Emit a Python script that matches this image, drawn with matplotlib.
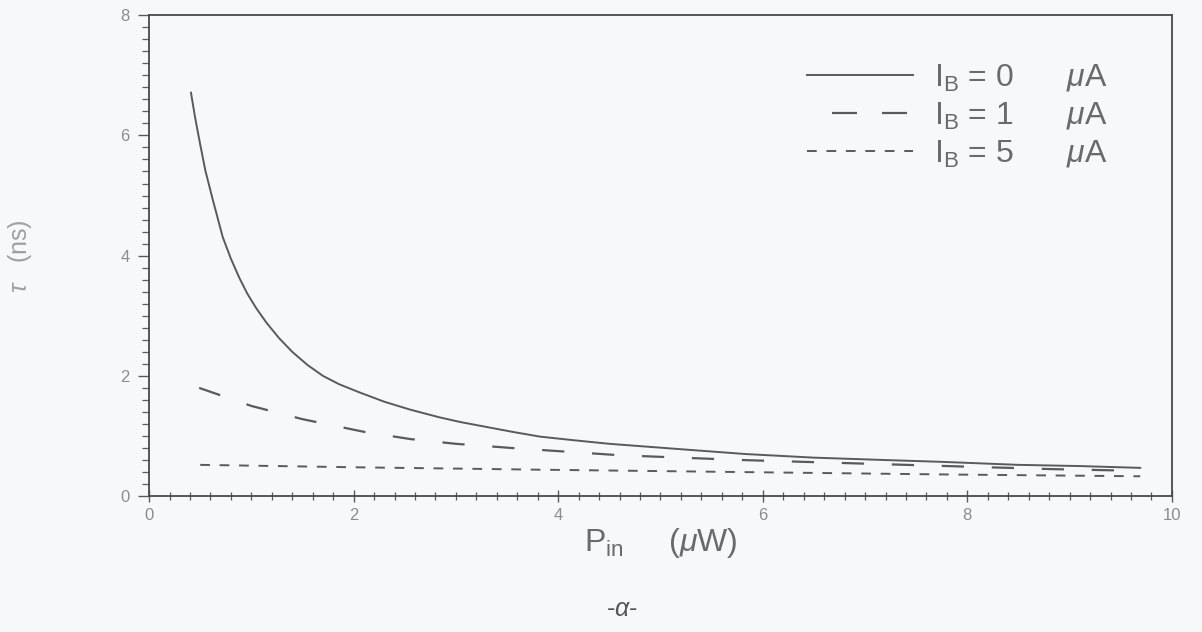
import numpy as np
from matplotlib import pyplot as plt

plt.rcParams['font.family'] = ['Liberation Sans', 'DejaVu Sans']
plt.rcParams['mathtext.fontset'] = 'custom'
plt.rcParams['mathtext.rm'] = 'Liberation Sans'
plt.rcParams['mathtext.it'] = 'Liberation Sans:italic'
plt.rcParams['lines.scale_dashes'] = False

# readings: P_in (uW) vs delay (ns)
p_ib0 = [0.41, 0.45, 0.5, 0.55, 0.62, 0.72, 0.8, 0.88, 0.96, 1.05, 1.15, 1.27,
         1.4, 1.55, 1.7, 1.86, 2.05, 2.3, 2.55, 2.84, 3.05, 3.3, 3.55, 3.82,
         4.15, 4.5, 5.2, 5.83, 6.5, 7.2, 7.75, 8.5, 9.1, 9.69]
t_ib0 = [6.71, 6.3, 5.85, 5.42, 4.95, 4.31, 3.95, 3.64, 3.37, 3.12, 2.88, 2.63,
         2.4, 2.18, 2.0, 1.86, 1.73, 1.57, 1.44, 1.31, 1.23, 1.15, 1.07, 0.99,
         0.93, 0.87, 0.78, 0.70, 0.64, 0.60, 0.57, 0.52, 0.50, 0.47]

p_ib1 = [0.49, 1.0, 1.5, 2.1, 2.55, 3.0, 3.55, 4.6, 5.8, 6.8, 7.8, 8.8, 9.69]
t_ib1 = [1.80, 1.50, 1.28, 1.07, 0.95, 0.87, 0.80, 0.68, 0.60, 0.55, 0.50, 0.45, 0.42]

p_ib5 = [0.5, 2.0, 3.8, 5.8, 7.8, 9.69]
t_ib5 = [0.52, 0.48, 0.44, 0.40, 0.36, 0.33]

labels = [r'I$_{\mathrm{B}}$ = 0      $\mu$A',
          r'I$_{\mathrm{B}}$ = 1      $\mu$A',
          r'I$_{\mathrm{B}}$ = 5      $\mu$A']

bg = '#f7f8f9'
ink = '#5a5a5a'

fig = plt.figure(figsize=(12.02, 6.32), dpi=100, facecolor=bg)
ax = fig.add_axes([0.124, 0.215, 0.851, 0.761])
ax.set_facecolor(bg)

ax.plot(p_ib0, t_ib0, color=ink, lw=1.4, label=labels[0])
ax.plot(p_ib1, t_ib1, color=ink, lw=1.6, dashes=(16, 20), label=labels[1])
ax.plot(p_ib5, t_ib5, color=ink, lw=1.4, dashes=(7, 7), label=labels[2])

ax.set_xlim(0, 10)
ax.set_ylim(0, 8)
ax.set_xticks(np.arange(0, 11, 2))
ax.set_yticks(np.arange(0, 9, 2))
ax.set_xticks(np.arange(0, 10.01, 0.2), minor=True)
ax.set_yticks(np.arange(0, 8.01, 0.2), minor=True)
ax.tick_params(axis='x', which='major', direction='inout', length=9, width=1,
               colors=ink, labelcolor='#8c8c8c', labelsize=12, pad=4)
ax.tick_params(axis='x', which='minor', direction='inout', length=6, width=0.9, colors=ink)
ax.tick_params(axis='y', which='major', direction='out', length=8, width=1,
               colors=ink, labelcolor='#8c8c8c', labelsize=12, pad=6)
ax.tick_params(axis='y', which='minor', direction='out', length=5, width=0.9, colors=ink)
for s in ax.spines.values():
    s.set_color('#4a4a4a')
    s.set_linewidth(1.3)

ax.set_xlabel(r'P$_{\mathrm{in}}$     ($\mu$W)', fontsize=23, color='#6a6a6a', labelpad=2)
ax.set_ylabel(r'$\tau$   (ns)', fontsize=18, color='#a0a0a0', labelpad=62)

leg = ax.legend(loc='upper left', bbox_to_anchor=(0.628, 0.935), frameon=False,
                fontsize=23, handlelength=3.3, handletextpad=0.65,
                labelspacing=0.22, borderpad=0)
for t in leg.get_texts():
    t.set_color('#6a6a6a')
# the dashed sample starts with a gap in the original legend
leg.get_lines()[1].set_linestyle((18, (18, 18)))

fig.text(0.517, 0.025, r'-$\alpha$-', fontsize=18, color='#555555', ha='center')

fig.savefig('out.png', dpi=100, facecolor=bg)
